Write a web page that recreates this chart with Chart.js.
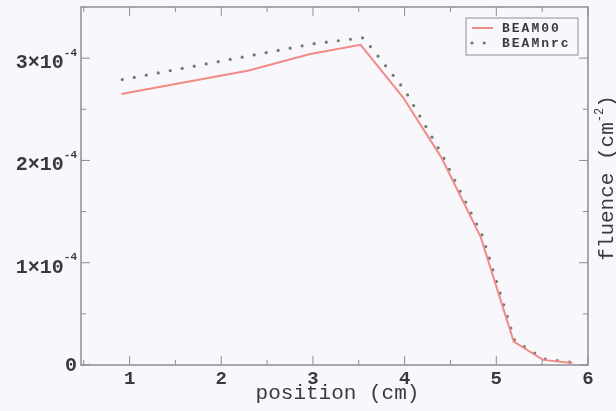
<!DOCTYPE html>
<html>
<head>
<meta charset="utf-8">
<title>fluence profile</title>
<script src="https://cdn.jsdelivr.net/npm/chart.js@4.4.1/dist/chart.umd.min.js"></script>
<style>
  html, body { margin: 0; padding: 0; background: #f8f7fc; }
  #wrap { width: 616px; height: 411px; }
</style>
</head>
<body>
<div id="wrap"><canvas id="fluenceChart" width="616" height="411"></canvas></div>
<script>
// Fluence profile across the field edge: BEAM00 vs BEAMnrc
const posBeam00 = [0.91, 2.30, 2.97, 3.52, 3.98, 4.40, 4.83, 5.19, 5.51, 5.83];
const fluBeam00 = [2.65e-4, 2.88e-4, 3.04e-4, 3.13e-4, 2.62e-4, 2.03e-4, 1.25e-4, 0.23e-4, 0.05e-4, 0.02e-4];

const posBeamNrc = [0.92, 2.35, 3.00, 3.55, 4.00, 4.40, 4.85, 5.20, 5.52, 5.83];
const fluBeamNrc = [2.79e-4, 3.03e-4, 3.14e-4, 3.20e-4, 2.69e-4, 2.07e-4, 1.26e-4, 0.24e-4, 0.06e-4, 0.025e-4];

const seriesNames = ['BEAM00', 'BEAMnrc'];

// axis ticks
const xTicks = [1, 2, 3, 4, 5, 6];
const xMinorTicks = [0.5, 1.5, 2.5, 3.5, 4.5, 5.5];
const yTicks = [0, 1e-4, 2e-4, 3e-4];
const yTickMantissa = ['0', '1×10', '2×10', '3×10'];
const yTickExponent = ['', '-4', '-4', '-4'];
const yMinorTicks = [0.5e-4, 1.5e-4, 2.5e-4];

const MONO = '"Liberation Mono", "Courier New", monospace';
const INK = '#3a3a3e';
const AXIS = '#8d8d99';
const BG = '#f8f7fc';

const toPoints = (xs, ys) => xs.map((v, i) => ({ x: v, y: ys[i] }));

// background, frame with inward ticks on all sides, axis titles, y labels, legend
const framePlugin = {
    id: 'frame',
    beforeDraw(chart) {
        const ctx = chart.ctx;
        ctx.save();
        ctx.fillStyle = BG;
        ctx.fillRect(0, 0, chart.width, chart.height);
        ctx.restore();
    },
    afterDraw(chart) {
        const { ctx, chartArea: a, scales: { x, y } } = chart;
        ctx.save();

        ctx.strokeStyle = AXIS;
        ctx.lineWidth = 1.5;
        ctx.strokeRect(a.left, a.top, a.right - a.left, a.bottom - a.top);

        const seg = (x1, y1, x2, y2) => {
            ctx.beginPath();
            ctx.moveTo(x1, y1);
            ctx.lineTo(x2, y2);
            ctx.stroke();
        };
        ctx.lineWidth = 1;
        xTicks.forEach(v => {
            const px = x.getPixelForValue(v);
            seg(px, a.bottom, px, a.bottom - 9);
            seg(px, a.top, px, a.top + 9);
        });
        xMinorTicks.forEach(v => {
            const px = x.getPixelForValue(v);
            if (px <= a.left + 1) return;
            seg(px, a.bottom, px, a.bottom - 5);
            seg(px, a.top, px, a.top + 5);
        });
        yTicks.forEach(v => {
            const py = y.getPixelForValue(v);
            seg(a.left, py, a.left + 9, py);
            seg(a.right, py, a.right - 9, py);
        });
        yMinorTicks.forEach(v => {
            const py = y.getPixelForValue(v);
            seg(a.left, py, a.left + 5, py);
            seg(a.right, py, a.right - 5, py);
        });

        // y tick labels with superscript exponent
        ctx.fillStyle = INK;
        ctx.textBaseline = 'middle';
        ctx.textAlign = 'left';
        const labelRight = a.left - 4;
        yTicks.forEach((v, i) => {
            const py = y.getPixelForValue(v);
            ctx.font = 'bold 11px ' + MONO;
            const expW = ctx.measureText(yTickExponent[i]).width;
            ctx.font = 'bold 20px ' + MONO;
            const manW = ctx.measureText(yTickMantissa[i]).width;
            if (yTickExponent[i]) {
                ctx.fillText(yTickMantissa[i], labelRight - expW - manW, py + 5);
                ctx.font = 'bold 11px ' + MONO;
                ctx.fillText(yTickExponent[i], labelRight - expW, py - 5);
            } else {
                ctx.fillText(yTickMantissa[i], labelRight - manW, py + 1);
            }
        });

        // x axis title, tucked right under the tick labels
        ctx.font = '21px ' + MONO;
        ctx.textAlign = 'center';
        ctx.fillText('position (cm)', (a.left + a.right) / 2 + 3, 393);
        ctx.textAlign = 'left';

        // right-hand axis title, reading upwards
        ctx.save();
        ctx.translate(606, (a.top + a.bottom) / 2 - 8);
        ctx.rotate(-Math.PI / 2);
        const t1 = 'fluence (cm', sup = '-2', t2 = ')';
        ctx.font = '21px ' + MONO;
        const w1 = ctx.measureText(t1).width, w2 = ctx.measureText(t2).width;
        ctx.font = '12px ' + MONO;
        const ws = ctx.measureText(sup).width;
        let cx = -(w1 + ws + w2) / 2;
        ctx.font = '21px ' + MONO;
        ctx.fillText(t1, cx, 1);
        cx += w1;
        ctx.font = '12px ' + MONO;
        ctx.fillText(sup, cx, -6);
        cx += ws;
        ctx.font = '21px ' + MONO;
        ctx.fillText(t2, cx, 1);
        ctx.restore();

        // legend box in the upper right corner
        const lx = a.right - 122, ly = a.top + 11, lw = 112, lh = 37;
        ctx.fillStyle = BG;
        ctx.fillRect(lx, ly, lw, lh);
        ctx.strokeStyle = AXIS;
        ctx.lineWidth = 1;
        ctx.strokeRect(lx, ly, lw, lh);
        chart.data.datasets.forEach((ds, i) => {
            const ry = ly + 10 + i * 15;
            ctx.save();
            ctx.strokeStyle = ds.borderColor;
            ctx.lineWidth = ds.borderWidth;
            ctx.lineCap = ds.borderCapStyle || 'butt';
            ctx.setLineDash(ds.borderDash || []);
            seg(lx + 6, ry, lx + 27, ry);
            ctx.restore();
            ctx.fillStyle = INK;
            ctx.font = 'bold 13px ' + MONO;
            ctx.letterSpacing = '2px';
            ctx.fillText(ds.label, lx + 36, ry + 1);
            ctx.letterSpacing = '0px';
        });

        ctx.restore();
    }
};

new Chart(document.getElementById('fluenceChart'), {
    type: 'line',
    data: {
        datasets: [
            {
                label: seriesNames[0],
                data: toPoints(posBeam00, fluBeam00),
                borderColor: '#f28b85',
                borderWidth: 2,
                pointRadius: 0,
                tension: 0
            },
            {
                label: seriesNames[1],
                data: toPoints(posBeamNrc, fluBeamNrc),
                borderColor: '#6e7a70',
                borderWidth: 3.2,
                borderDash: [0, 12.2],
                borderCapStyle: 'round',
                pointRadius: 0,
                tension: 0
            }
        ]
    },
    options: {
        responsive: false,
        animation: false,
        layout: { padding: { left: 81, right: 28, top: 7, bottom: 17 } },
        plugins: {
            legend: { display: false },
            tooltip: { enabled: false }
        },
        scales: {
            x: {
                type: 'linear',
                min: 0.47,
                max: 6,
                grid: { display: false, drawTicks: false },
                border: { display: false },
                afterBuildTicks: scale => {
                    scale.ticks = xTicks.map(v => ({ value: v }));
                },
                ticks: {
                    color: INK,
                    padding: 5,
                    maxRotation: 0,
                    font: { family: MONO, size: 19, weight: 'bold', lineHeight: 1 }
                },
                title: { display: false }
            },
            y: {
                display: false,
                min: 0,
                max: 3.5e-4
            }
        }
    },
    plugins: [framePlugin]
});
</script>
</body>
</html>
